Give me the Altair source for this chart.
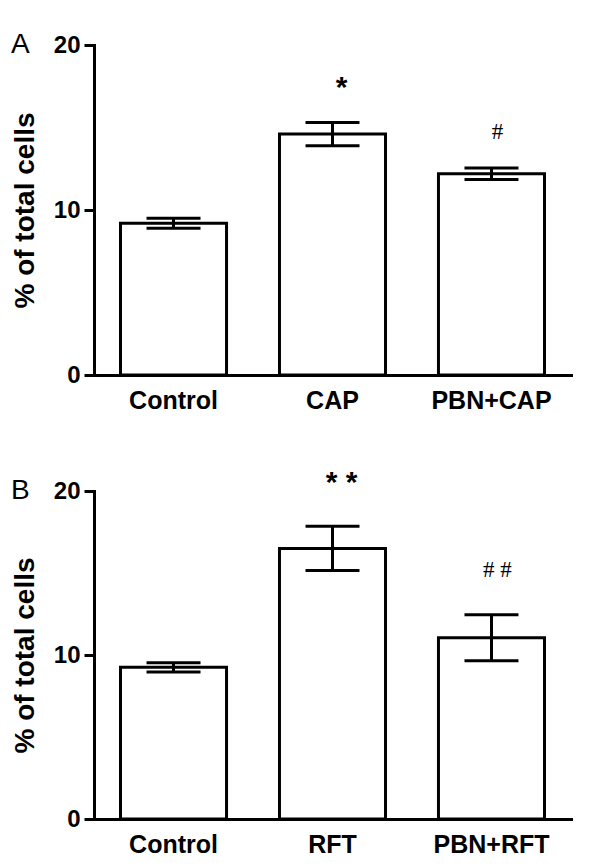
import altair as alt
import pandas as pd

# Panel A
groups_a = ["Control", "CAP", "PBN+CAP"]
means_a = [9.2, 14.6, 12.2]
sems_a = [0.3, 0.7, 0.35]
stars_a = ["", "*", ""]
hashes_a = ["", "", "#"]
sig_y_a = [None, 17.4, 14.7]

# Panel B
groups_b = ["Control", "RFT", "PBN+RFT"]
means_b = [9.25, 16.5, 11.05]
sems_b = [0.28, 1.35, 1.4]
stars_b = ["", "* *", ""]
hashes_b = ["", "", "# #"]
sig_y_b = [None, 20.5, 15.2]

y_ticks = [0, 10, 20]
y_title = "% of total cells"

FONT = "Liberation Sans"


def panel(letter, groups, means, sems, stars, hashes, sig_y, height):
    df = pd.DataFrame({
        "group": groups,
        "mean": means,
        "lo": [m - s for m, s in zip(means, sems)],
        "hi": [m + s for m, s in zip(means, sems)],
        "star": stars,
        "hash": hashes,
        "sig_y": sig_y,
    })
    x_axis = alt.Axis(labelAngle=0, ticks=False, domainWidth=3, domainColor="black",
                      domainCap="square", labelFont=FONT, labelFontSize=25,
                      labelFontWeight="bold", labelColor="black", labelPadding=13)
    x_scale = alt.Scale(paddingInner=0.333, paddingOuter=0.1667)
    y_axis = alt.Axis(values=y_ticks, grid=False, tickSize=10, tickWidth=3,
                      tickColor="black", domainWidth=3, domainColor="black",
                      domainCap="square", labelFont=FONT, labelFontSize=24,
                      labelFontWeight="bold", labelColor="black", labelPadding=4,
                      titleFont=FONT, titleFontSize=28, titleFontWeight="bold",
                      titleColor="black", titlePadding=14)
    y_scale = alt.Scale(domain=[0, 20], nice=False)

    def X():
        return alt.X("group:N", sort=groups, title=None, scale=x_scale, axis=x_axis)

    def Y(field):
        return alt.Y(field, title=y_title, scale=y_scale, axis=y_axis)

    bars = alt.Chart(df).mark_bar(fill="white", stroke="black", strokeWidth=3).encode(
        x=X(), y=Y("mean:Q"))
    rule = alt.Chart(df).mark_rule(color="black", strokeWidth=3).encode(
        x=X(), y=Y("lo:Q"), y2="hi:Q")
    caps = alt.Chart(df).transform_fold(["lo", "hi"], as_=["end", "val"]).mark_tick(
        color="black", size=54, thickness=3, orient="horizontal", opacity=1).encode(
        x=X(), y=Y("val:Q"))
    star_txt = alt.Chart(df).transform_filter("datum.star != ''").mark_text(
        font=FONT, fontWeight="bold", fontSize=30, dx=9, baseline="middle", color="black").encode(
        x=X(), y=Y("sig_y:Q"), text="star:N")
    hash_txt = alt.Chart(df).transform_filter("datum.hash != ''").mark_text(
        font="Liberation Serif", fontWeight="normal", fontSize=23, dx=6, baseline="middle",
        color="black").encode(
        x=X(), y=Y("sig_y:Q"), text="hash:N")
    # panel letter, level with the top tick of the y axis
    letter_txt = alt.Chart(pd.DataFrame({"t": [letter]})).mark_text(
        font=FONT, fontSize=28, fontWeight="normal", color="black",
        align="left", baseline="middle").encode(
        x=alt.value(-83), y=alt.datum(max(y_ticks), scale=y_scale), text="t:N")
    return alt.layer(bars, rule, caps, star_txt, hash_txt, letter_txt).properties(
        width=477, height=height)


chart = alt.vconcat(
    panel("A", groups_a, means_a, sems_a, stars_a, hashes_a, sig_y_a, 330),
    panel("B", groups_b, means_b, sems_b, stars_b, hashes_b, sig_y_b, 328),
    spacing=54,
).properties(padding={"left": 3, "top": 23, "right": 5, "bottom": 5}).configure_view(stroke=None)

chart.save("out.html", embed_options={"renderer": "svg", "actions": False})
